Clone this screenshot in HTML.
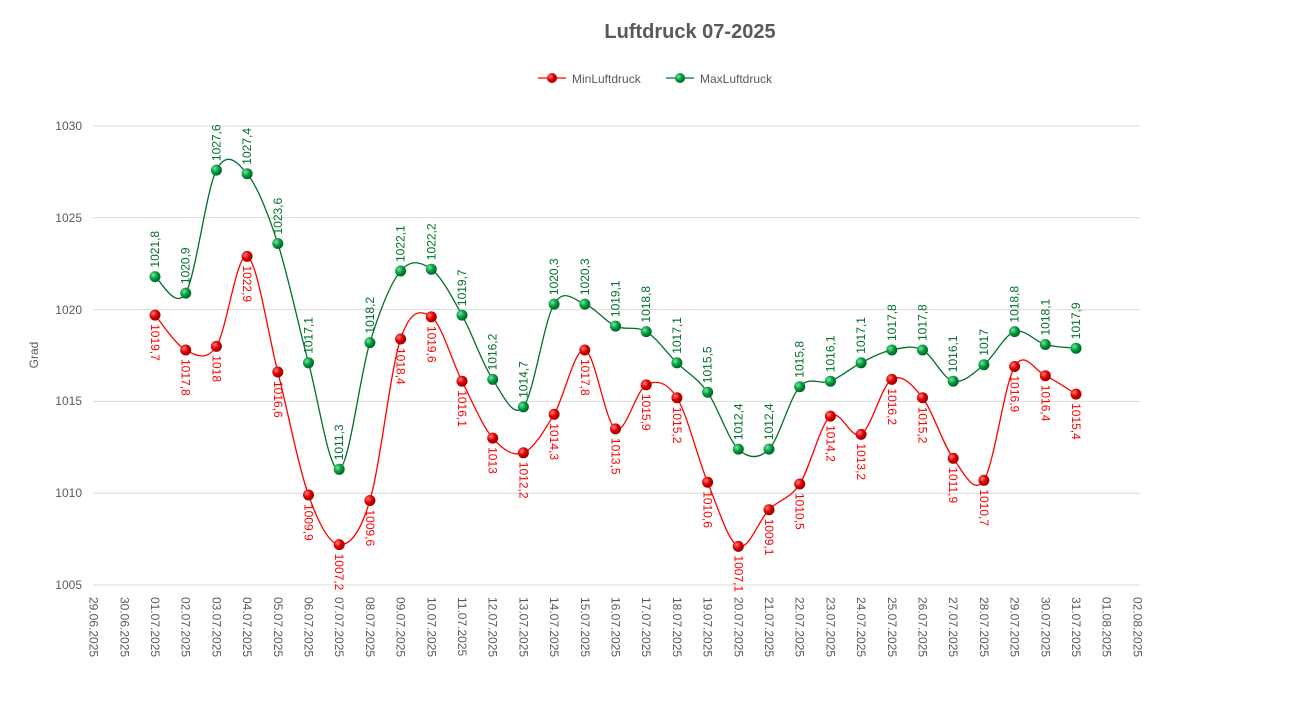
<!DOCTYPE html>
<html><head><meta charset="utf-8"><style>
body{margin:0;background:#fff}
svg{display:block;font-family:"Liberation Sans",sans-serif}
</style></head><body>
<svg width="1315" height="714" viewBox="0 0 1315 714">
<defs>
<radialGradient id="gr" cx="0.35" cy="0.35" r="0.7"><stop offset="0" stop-color="#ff8080"/><stop offset="0.5" stop-color="#e00000"/><stop offset="1" stop-color="#900000"/></radialGradient>
<radialGradient id="gg" cx="0.35" cy="0.35" r="0.7"><stop offset="0" stop-color="#80e0a0"/><stop offset="0.5" stop-color="#00a040"/><stop offset="1" stop-color="#005a20"/></radialGradient>
</defs>
<text x="690" y="38" text-anchor="middle" font-size="20" font-weight="bold" fill="#595959">Luftdruck 07-2025</text>
<line x1="538" y1="78" x2="566" y2="78" stroke="#f00" stroke-width="1.3"/><circle cx="552" cy="78" r="5" fill="url(#gr)"/>
<text x="572" y="83" font-size="12" fill="#595959">MinLuftdruck</text>
<line x1="666" y1="78" x2="694" y2="78" stroke="#00702a" stroke-width="1.3"/><circle cx="680" cy="78" r="5" fill="url(#gg)"/>
<text x="700" y="83" font-size="12" fill="#595959">MaxLuftdruck</text>
<g stroke="#d9d9d9" stroke-width="1">
<line x1="93" y1="126" x2="1140" y2="126"/><line x1="93" y1="217.8" x2="1140" y2="217.8"/><line x1="93" y1="309.6" x2="1140" y2="309.6"/><line x1="93" y1="401.4" x2="1140" y2="401.4"/><line x1="93" y1="493.2" x2="1140" y2="493.2"/><line x1="93" y1="585" x2="1140" y2="585"/>
</g>
<g font-size="12" fill="#595959" text-anchor="end">
<text x="82" y="130">1030</text><text x="82" y="222">1025</text><text x="82" y="314">1020</text><text x="82" y="405">1015</text><text x="82" y="497">1010</text><text x="82" y="589">1005</text>
</g>
<text transform="translate(38,355) rotate(-90)" text-anchor="middle" font-size="12" fill="#595959">Grad</text>
<g font-size="12" fill="#595959">
<text transform="translate(93.6,597) rotate(90)" dy="4">29.06.2025</text>
<text transform="translate(124.3,597) rotate(90)" dy="4">30.06.2025</text>
<text transform="translate(155,597) rotate(90)" dy="4">01.07.2025</text>
<text transform="translate(185.7,597) rotate(90)" dy="4">02.07.2025</text>
<text transform="translate(216.4,597) rotate(90)" dy="4">03.07.2025</text>
<text transform="translate(247.1,597) rotate(90)" dy="4">04.07.2025</text>
<text transform="translate(277.8,597) rotate(90)" dy="4">05.07.2025</text>
<text transform="translate(308.5,597) rotate(90)" dy="4">06.07.2025</text>
<text transform="translate(339.2,597) rotate(90)" dy="4">07.07.2025</text>
<text transform="translate(369.9,597) rotate(90)" dy="4">08.07.2025</text>
<text transform="translate(400.6,597) rotate(90)" dy="4">09.07.2025</text>
<text transform="translate(431.3,597) rotate(90)" dy="4">10.07.2025</text>
<text transform="translate(462,597) rotate(90)" dy="4">11.07.2025</text>
<text transform="translate(492.7,597) rotate(90)" dy="4">12.07.2025</text>
<text transform="translate(523.4,597) rotate(90)" dy="4">13.07.2025</text>
<text transform="translate(554.1,597) rotate(90)" dy="4">14.07.2025</text>
<text transform="translate(584.8,597) rotate(90)" dy="4">15.07.2025</text>
<text transform="translate(615.5,597) rotate(90)" dy="4">16.07.2025</text>
<text transform="translate(646.2,597) rotate(90)" dy="4">17.07.2025</text>
<text transform="translate(676.9,597) rotate(90)" dy="4">18.07.2025</text>
<text transform="translate(707.6,597) rotate(90)" dy="4">19.07.2025</text>
<text transform="translate(738.3,597) rotate(90)" dy="4">20.07.2025</text>
<text transform="translate(769,597) rotate(90)" dy="4">21.07.2025</text>
<text transform="translate(799.7,597) rotate(90)" dy="4">22.07.2025</text>
<text transform="translate(830.4,597) rotate(90)" dy="4">23.07.2025</text>
<text transform="translate(861.1,597) rotate(90)" dy="4">24.07.2025</text>
<text transform="translate(891.8,597) rotate(90)" dy="4">25.07.2025</text>
<text transform="translate(922.5,597) rotate(90)" dy="4">26.07.2025</text>
<text transform="translate(953.2,597) rotate(90)" dy="4">27.07.2025</text>
<text transform="translate(983.9,597) rotate(90)" dy="4">28.07.2025</text>
<text transform="translate(1014.6,597) rotate(90)" dy="4">29.07.2025</text>
<text transform="translate(1045.3,597) rotate(90)" dy="4">30.07.2025</text>
<text transform="translate(1076,597) rotate(90)" dy="4">31.07.2025</text>
<text transform="translate(1106.7,597) rotate(90)" dy="4">01.08.2025</text>
<text transform="translate(1137.4,597) rotate(90)" dy="4">02.08.2025</text>
</g>
<polyline class="sm" fill="none" stroke="#00702a" stroke-width="1.3" stroke-linejoin="round" points="155,276.6 185.7,293.1 216.4,170.1 247.1,173.7 277.8,243.5 308.5,362.8 339.2,469.3 369.9,342.6 400.6,271 431.3,269.2 462,315.1 492.7,379.4 523.4,406.9 554.1,304.1 584.8,304.1 615.5,326.1 646.2,331.6 676.9,362.8 707.6,392.2 738.3,449.1 769,449.1 799.7,386.7 830.4,381.2 861.1,362.8 891.8,350 922.5,350 953.2,381.2 983.9,364.7 1014.6,331.6 1045.3,344.5 1076,348.2"/>
<polyline class="sm" fill="none" stroke="#f00" stroke-width="1.3" stroke-linejoin="round" points="155,315.1 185.7,350 216.4,346.3 247.1,256.4 277.8,372 308.5,495 339.2,544.6 369.9,500.5 400.6,339 431.3,316.9 462,381.2 492.7,438.1 523.4,452.8 554.1,414.3 584.8,350 615.5,428.9 646.2,384.9 676.9,397.7 707.6,482.2 738.3,546.4 769,509.7 799.7,484 830.4,416.1 861.1,434.4 891.8,379.4 922.5,397.7 953.2,458.3 983.9,480.3 1014.6,366.5 1045.3,375.7 1076,394.1"/>
<g fill="url(#gg)">
<circle cx="155" cy="276.6" r="5.5"/><circle cx="185.7" cy="293.1" r="5.5"/><circle cx="216.4" cy="170.1" r="5.5"/><circle cx="247.1" cy="173.7" r="5.5"/><circle cx="277.8" cy="243.5" r="5.5"/><circle cx="308.5" cy="362.8" r="5.5"/><circle cx="339.2" cy="469.3" r="5.5"/><circle cx="369.9" cy="342.6" r="5.5"/><circle cx="400.6" cy="271" r="5.5"/><circle cx="431.3" cy="269.2" r="5.5"/><circle cx="462" cy="315.1" r="5.5"/><circle cx="492.7" cy="379.4" r="5.5"/><circle cx="523.4" cy="406.9" r="5.5"/><circle cx="554.1" cy="304.1" r="5.5"/><circle cx="584.8" cy="304.1" r="5.5"/><circle cx="615.5" cy="326.1" r="5.5"/><circle cx="646.2" cy="331.6" r="5.5"/><circle cx="676.9" cy="362.8" r="5.5"/><circle cx="707.6" cy="392.2" r="5.5"/><circle cx="738.3" cy="449.1" r="5.5"/><circle cx="769" cy="449.1" r="5.5"/><circle cx="799.7" cy="386.7" r="5.5"/><circle cx="830.4" cy="381.2" r="5.5"/><circle cx="861.1" cy="362.8" r="5.5"/><circle cx="891.8" cy="350" r="5.5"/><circle cx="922.5" cy="350" r="5.5"/><circle cx="953.2" cy="381.2" r="5.5"/><circle cx="983.9" cy="364.7" r="5.5"/><circle cx="1014.6" cy="331.6" r="5.5"/><circle cx="1045.3" cy="344.5" r="5.5"/><circle cx="1076" cy="348.2" r="5.5"/>
</g>
<g fill="url(#gr)">
<circle cx="155" cy="315.1" r="5.5"/><circle cx="185.7" cy="350" r="5.5"/><circle cx="216.4" cy="346.3" r="5.5"/><circle cx="247.1" cy="256.4" r="5.5"/><circle cx="277.8" cy="372" r="5.5"/><circle cx="308.5" cy="495" r="5.5"/><circle cx="339.2" cy="544.6" r="5.5"/><circle cx="369.9" cy="500.5" r="5.5"/><circle cx="400.6" cy="339" r="5.5"/><circle cx="431.3" cy="316.9" r="5.5"/><circle cx="462" cy="381.2" r="5.5"/><circle cx="492.7" cy="438.1" r="5.5"/><circle cx="523.4" cy="452.8" r="5.5"/><circle cx="554.1" cy="414.3" r="5.5"/><circle cx="584.8" cy="350" r="5.5"/><circle cx="615.5" cy="428.9" r="5.5"/><circle cx="646.2" cy="384.9" r="5.5"/><circle cx="676.9" cy="397.7" r="5.5"/><circle cx="707.6" cy="482.2" r="5.5"/><circle cx="738.3" cy="546.4" r="5.5"/><circle cx="769" cy="509.7" r="5.5"/><circle cx="799.7" cy="484" r="5.5"/><circle cx="830.4" cy="416.1" r="5.5"/><circle cx="861.1" cy="434.4" r="5.5"/><circle cx="891.8" cy="379.4" r="5.5"/><circle cx="922.5" cy="397.7" r="5.5"/><circle cx="953.2" cy="458.3" r="5.5"/><circle cx="983.9" cy="480.3" r="5.5"/><circle cx="1014.6" cy="366.5" r="5.5"/><circle cx="1045.3" cy="375.7" r="5.5"/><circle cx="1076" cy="394.1" r="5.5"/>
</g>
<g font-size="12" fill="#00702a">
<text transform="translate(155,267.6) rotate(-90)" dy="4">1021,8</text>
<text transform="translate(185.7,284.1) rotate(-90)" dy="4">1020,9</text>
<text transform="translate(216.4,161.1) rotate(-90)" dy="4">1027,6</text>
<text transform="translate(247.1,164.7) rotate(-90)" dy="4">1027,4</text>
<text transform="translate(277.8,234.5) rotate(-90)" dy="4">1023,6</text>
<text transform="translate(308.5,353.8) rotate(-90)" dy="4">1017,1</text>
<text transform="translate(339.2,460.3) rotate(-90)" dy="4">1011,3</text>
<text transform="translate(369.9,333.6) rotate(-90)" dy="4">1018,2</text>
<text transform="translate(400.6,262) rotate(-90)" dy="4">1022,1</text>
<text transform="translate(431.3,260.2) rotate(-90)" dy="4">1022,2</text>
<text transform="translate(462,306.1) rotate(-90)" dy="4">1019,7</text>
<text transform="translate(492.7,370.4) rotate(-90)" dy="4">1016,2</text>
<text transform="translate(523.4,397.9) rotate(-90)" dy="4">1014,7</text>
<text transform="translate(554.1,295.1) rotate(-90)" dy="4">1020,3</text>
<text transform="translate(584.8,295.1) rotate(-90)" dy="4">1020,3</text>
<text transform="translate(615.5,317.1) rotate(-90)" dy="4">1019,1</text>
<text transform="translate(646.2,322.6) rotate(-90)" dy="4">1018,8</text>
<text transform="translate(676.9,353.8) rotate(-90)" dy="4">1017,1</text>
<text transform="translate(707.6,383.2) rotate(-90)" dy="4">1015,5</text>
<text transform="translate(738.3,440.1) rotate(-90)" dy="4">1012,4</text>
<text transform="translate(769,440.1) rotate(-90)" dy="4">1012,4</text>
<text transform="translate(799.7,377.7) rotate(-90)" dy="4">1015,8</text>
<text transform="translate(830.4,372.2) rotate(-90)" dy="4">1016,1</text>
<text transform="translate(861.1,353.8) rotate(-90)" dy="4">1017,1</text>
<text transform="translate(891.8,341) rotate(-90)" dy="4">1017,8</text>
<text transform="translate(922.5,341) rotate(-90)" dy="4">1017,8</text>
<text transform="translate(953.2,372.2) rotate(-90)" dy="4">1016,1</text>
<text transform="translate(983.9,355.7) rotate(-90)" dy="4">1017</text>
<text transform="translate(1014.6,322.6) rotate(-90)" dy="4">1018,8</text>
<text transform="translate(1045.3,335.5) rotate(-90)" dy="4">1018,1</text>
<text transform="translate(1076,339.2) rotate(-90)" dy="4">1017,9</text>
</g>
<g font-size="12" fill="#f00">
<text transform="translate(155,324.1) rotate(90)" dy="4">1019,7</text>
<text transform="translate(185.7,359) rotate(90)" dy="4">1017,8</text>
<text transform="translate(216.4,355.3) rotate(90)" dy="4">1018</text>
<text transform="translate(247.1,265.4) rotate(90)" dy="4">1022,9</text>
<text transform="translate(277.8,381) rotate(90)" dy="4">1016,6</text>
<text transform="translate(308.5,504) rotate(90)" dy="4">1009,9</text>
<text transform="translate(339.2,553.6) rotate(90)" dy="4">1007,2</text>
<text transform="translate(369.9,509.5) rotate(90)" dy="4">1009,6</text>
<text transform="translate(400.6,348) rotate(90)" dy="4">1018,4</text>
<text transform="translate(431.3,325.9) rotate(90)" dy="4">1019,6</text>
<text transform="translate(462,390.2) rotate(90)" dy="4">1016,1</text>
<text transform="translate(492.7,447.1) rotate(90)" dy="4">1013</text>
<text transform="translate(523.4,461.8) rotate(90)" dy="4">1012,2</text>
<text transform="translate(554.1,423.3) rotate(90)" dy="4">1014,3</text>
<text transform="translate(584.8,359) rotate(90)" dy="4">1017,8</text>
<text transform="translate(615.5,437.9) rotate(90)" dy="4">1013,5</text>
<text transform="translate(646.2,393.9) rotate(90)" dy="4">1015,9</text>
<text transform="translate(676.9,406.7) rotate(90)" dy="4">1015,2</text>
<text transform="translate(707.6,491.2) rotate(90)" dy="4">1010,6</text>
<text transform="translate(738.3,555.4) rotate(90)" dy="4">1007,1</text>
<text transform="translate(769,518.7) rotate(90)" dy="4">1009,1</text>
<text transform="translate(799.7,493) rotate(90)" dy="4">1010,5</text>
<text transform="translate(830.4,425.1) rotate(90)" dy="4">1014,2</text>
<text transform="translate(861.1,443.4) rotate(90)" dy="4">1013,2</text>
<text transform="translate(891.8,388.4) rotate(90)" dy="4">1016,2</text>
<text transform="translate(922.5,406.7) rotate(90)" dy="4">1015,2</text>
<text transform="translate(953.2,467.3) rotate(90)" dy="4">1011,9</text>
<text transform="translate(983.9,489.3) rotate(90)" dy="4">1010,7</text>
<text transform="translate(1014.6,375.5) rotate(90)" dy="4">1016,9</text>
<text transform="translate(1045.3,384.7) rotate(90)" dy="4">1016,4</text>
<text transform="translate(1076,403.1) rotate(90)" dy="4">1015,4</text>
</g>
</svg>
<script>
document.querySelectorAll('polyline.sm').forEach(function(pl){
  var p=pl.getAttribute('points').trim().split(/\s+/).map(function(s){return s.split(',').map(Number);});
  var d='M'+p[0][0]+','+p[0][1];
  for(var i=0;i<p.length-1;i++){
    var p0=p[i-1]||p[i],p1=p[i],p2=p[i+1],p3=p[i+2]||p2;
    var c1x=p1[0]+(p2[0]-p0[0])/6,c1y=p1[1]+(p2[1]-p0[1])/6;
    var c2x=p2[0]-(p3[0]-p1[0])/6,c2y=p2[1]-(p3[1]-p1[1])/6;
    d+=' C'+c1x.toFixed(1)+','+c1y.toFixed(1)+' '+c2x.toFixed(1)+','+c2y.toFixed(1)+' '+p2[0]+','+p2[1];
  }
  var path=document.createElementNS('http://www.w3.org/2000/svg','path');
  path.setAttribute('d',d);path.setAttribute('fill','none');
  path.setAttribute('stroke',pl.getAttribute('stroke'));path.setAttribute('stroke-width','1.3');
  pl.parentNode.replaceChild(path,pl);
});
</script>
</body></html>
